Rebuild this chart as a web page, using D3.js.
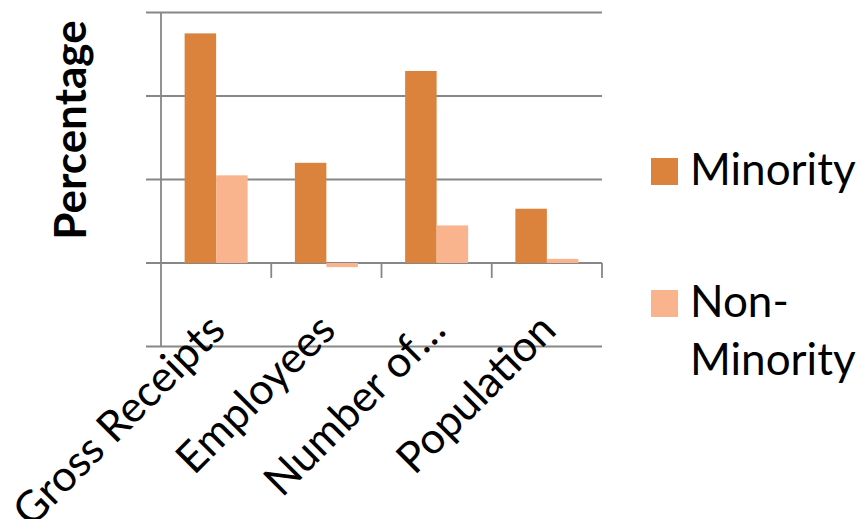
<!DOCTYPE html>
<html>
<head>
<meta charset="utf-8">
<script src="https://cdn.jsdelivr.net/npm/d3@7/dist/d3.min.js"></script>
<style>
  html, body { margin: 0; padding: 0; background: #fff; }
  svg { display: block; }
  text { font-family: Lato, "Open Sans", sans-serif; fill: #000; }
</style>
</head>
<body>
<svg id="chart" width="861" height="519"></svg>
<script>
const categories = ['Gross Receipts', 'Employees', 'Number of…', 'Population'];
const seriesNames = ['Minority', 'Non-Minority'];
const minority = [27.5, 12.0, 23.0, 6.5];
const nonMinority = [10.5, -0.5, 4.5, 0.5];
const yTicks = [-10, 0, 10, 20, 30];
const colors = ['#db833d', '#f9b48e'];

const svg = d3.select('#chart');
const plotL = 161, plotR = 602, plotT = 12.5, plotB = 346.5;

const y = d3.scaleLinear().domain([-10, 30]).range([plotB, plotT]);
const x0 = d3.scaleBand().domain(categories).range([plotL, plotR]);
// Excel style gap width 75%
const gap = 0.75;
const groupW = x0.bandwidth() / (1 + gap);
const x1 = d3.scaleBand().domain(seriesNames)
  .range([(x0.bandwidth() - groupW) / 2, (x0.bandwidth() + groupW) / 2]);

const grid = '#878787';

// gridlines with outward ticks
svg.append('g')
  .selectAll('line')
  .data(yTicks)
  .join('line')
  .attr('x1', plotL - 15).attr('x2', plotR)
  .attr('y1', d => y(d)).attr('y2', d => y(d))
  .attr('stroke', grid).attr('stroke-width', 1.8);

// y axis line
svg.append('line')
  .attr('x1', plotL).attr('x2', plotL)
  .attr('y1', plotT).attr('y2', plotB)
  .attr('stroke', grid).attr('stroke-width', 1.8);

// category tick marks on the zero line
const bounds = categories.map(c => x0(c) + x0.bandwidth());
svg.append('g')
  .selectAll('line')
  .data(bounds)
  .join('line')
  .attr('x1', d => d).attr('x2', d => d)
  .attr('y1', y(0)).attr('y2', y(0) + 15)
  .attr('stroke', grid).attr('stroke-width', 1.8);

// bars
const rows = categories.map((c, i) => ({ cat: c, vals: [minority[i], nonMinority[i]] }));
svg.append('g')
  .selectAll('g')
  .data(rows)
  .join('g')
  .attr('transform', d => `translate(${x0(d.cat)},0)`)
  .selectAll('rect')
  .data(d => d.vals.map((v, j) => ({ name: seriesNames[j], v, j })))
  .join('rect')
  .attr('x', d => x1(d.name))
  .attr('width', x1.bandwidth())
  .attr('y', d => y(Math.max(0, d.v)))
  .attr('height', d => Math.abs(y(d.v) - y(0)))
  .attr('fill', d => colors[d.j]);

// category labels, rotated
svg.append('g')
  .selectAll('text')
  .data(categories)
  .join('text')
  .attr('transform', d => `translate(${x0(d) + x0.bandwidth() / 2 - 10},${y(0) + 48}) rotate(-45)`)
  .attr('text-anchor', 'end')
  .attr('dy', '0.7em')
  .attr('font-size', 43)
  .text(d => d);

// y axis title
svg.append('text')
  .attr('transform', `translate(86,130) rotate(-90)`)
  .attr('text-anchor', 'middle')
  .attr('font-size', 44)
  .attr('font-weight', 'bold')
  .text('Percentage');

// legend
const legend = svg.append('g');
const legendRows = [
  { lines: ['Minority'], y: 158, color: colors[0] },
  { lines: ['Non-', 'Minority'], y: 290, color: colors[1] }
];
legendRows.forEach(r => {
  legend.append('rect')
    .attr('x', 651).attr('y', r.y)
    .attr('width', 27).attr('height', 27)
    .attr('fill', r.color);
  legend.append('text')
    .attr('x', 690).attr('y', r.y + 27)
    .attr('font-size', 44)
    .selectAll('tspan')
    .data(r.lines)
    .join('tspan')
    .attr('x', 690)
    .attr('dy', (d, i) => i === 0 ? 0 : 58)
    .text(d => d);
});
</script>
</body>
</html>
